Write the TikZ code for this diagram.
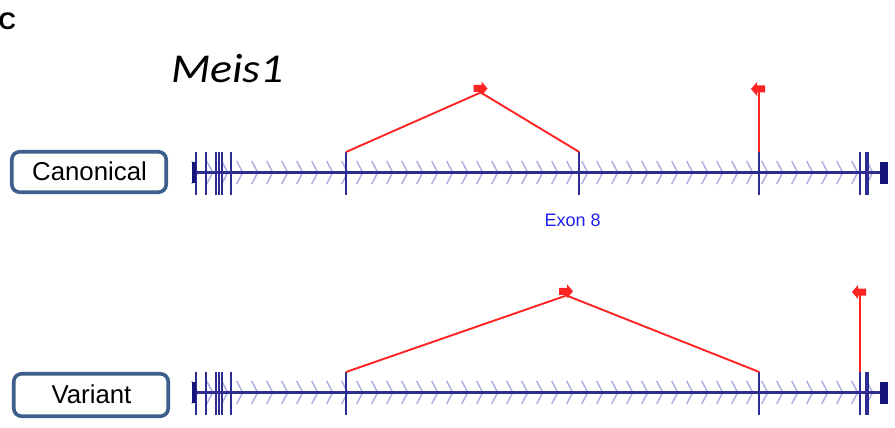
\documentclass[tikz,border=0pt]{standalone}
\usepackage{fontspec}
\setmainfont{Liberation Sans}
\newfontfamily\carlito{Carlito}
\definecolor{axisc}{HTML}{2E2E8F}
\definecolor{tickc}{HTML}{2C2C94}
\definecolor{chevc}{HTML}{B0B0E2}
\definecolor{blockc}{HTML}{14147A}
\definecolor{redc}{HTML}{FF2424}
\definecolor{boxc}{HTML}{3E5F8C}
\definecolor{exonc}{HTML}{2020F0}
\newcommand\flagR[1]{\fill[redc,shift={(#1)}] (-7,-3.5)--(1,-3.5)--(1,-7)--(7,0)--(1,7)--(1,3.5)--(-7,3.5)--cycle;}
\newcommand\flagL[1]{\fill[redc,shift={(#1)}] (7,-3.5)--(-1,-3.5)--(-1,-7)--(-7,0)--(-1,7)--(-1,3.5)--(7,3.5)--cycle;}
\tikzset{
  labelbox/.style={draw=boxc, line width=3.6pt, rounded corners=8pt, fill=white, minimum width=154.5pt, inner sep=0pt},
  labeltext/.style={anchor=base, inner sep=0pt, font=\fontsize{25.8}{30}\selectfont},
  axisline/.style={axisc, line width=2.6pt},
  exontick/.style={tickc, line width=2pt},
  chev/.style={chevc, line width=1.5pt},
  junction/.style={redc, line width=1.9pt},
}
\begin{document}
\begin{tikzpicture}[x=1pt,y=-1pt]
\useasboundingbox (0,0) rectangle (895,428);
\fill[white] (0,0) rectangle (895,428);

% panel letter and title
\node[anchor=base west, inner sep=0pt, font=\bfseries\fontsize{24}{28}\selectfont] (panel) at (-1.5,30) {C};
\node[anchor=base west, inner sep=0pt, xscale=1.12, font=\carlito\itshape\fontsize{41}{48}\selectfont] (gene) at (171,82) {Meis1};

% label boxes
\node[labelbox, minimum height=40.5pt] (canbox) at (89,172) {};
\node[labeltext] (cantext) at (89.5,180.5) {Canonical};
\node[labelbox, minimum height=42.5pt] (varbox) at (91,395) {};
\node[labeltext] (vartext) at (91.5,403.5) {Variant};

% tracks
\foreach \y/\t/\b/\name in {172.5/152/194.5/can, 392.5/372/415/var}{
  \foreach \k in {0,...,45}{
    \draw[chev] ({197.7+15*\k-6},\y-11.5) -- ({197.7+15*\k},\y) -- ({197.7+15*\k-6},\y+11.5);
  }
  \draw[axisline] (193,\y) -- (881,\y);
  \foreach \x in {195.5,205.7,215.7,218.7,221.7,231,346,759.3,860,865.7,868.3}{
    \draw[exontick] (\x,\t) -- (\x,\b);
  }
  \fill[blockc] (192,\y-10.5) rectangle (195.5,\y+10.5);
  \fill[blockc] (880,\y-11) rectangle (887.5,\y+11);
}
\draw[exontick] (579.3,152) -- (579.3,194.5);

% canonical junctions
\coordinate (c1) at (346,152);
\coordinate (c2) at (579.3,152);
\coordinate (c3) at (759.3,152);
\coordinate (cpeak) at (480.7,92.5);
\coordinate (cflagR) at (480.5,88.5);
\coordinate (cflagL) at (758,89);
\coordinate (cvtop) at (759.3,91);
\draw[junction] (c1) -- (cpeak) -- (c2);
\draw[junction] (c3) -- (cvtop);
\flagR{cflagR}
\flagL{cflagL}

% variant junctions
\coordinate (v1) at (346,372);
\coordinate (v2) at (759.3,372);
\coordinate (v3) at (860,372);
\coordinate (vpeak) at (566.5,295.5);
\coordinate (vflagR) at (566,291.3);
\coordinate (vflagL) at (859,292);
\coordinate (vvtop) at (860,294);
\draw[junction] (v1) -- (vpeak) -- (v2);
\draw[junction] (v3) -- (vvtop);
\flagR{vflagR}
\flagL{vflagL}

% exon label
\node[anchor=base west, inner sep=0pt, text=exonc, font=\fontsize{18}{22}\selectfont] (exon8) at (544.5,226) {Exon 8};
\end{tikzpicture}
\end{document}
